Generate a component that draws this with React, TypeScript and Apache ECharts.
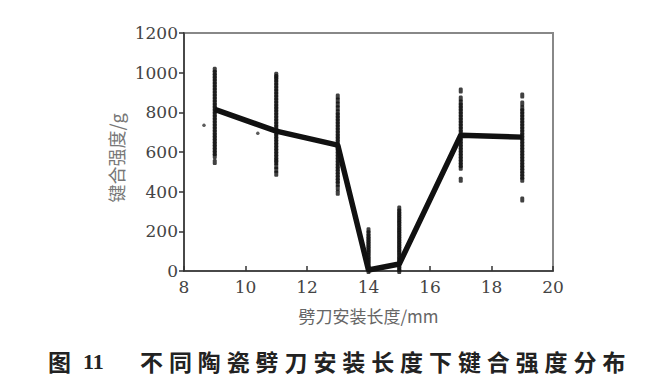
import React, { useEffect, useRef } from "react";
import * as echarts from "echarts";

const xTicks = [8, 10, 12, 14, 16, 18, 20];
const yTicks = [0, 200, 400, 600, 800, 1000, 1200];

const lengths = [9, 11, 13, 14, 15, 17, 19];
const meanStrength = [815, 705, 635, 5, 35, 685, 675];

const samples9 = [550, 580, 595, 610, 625, 640, 655, 670, 685, 700, 715, 730, 745, 760, 775, 790, 805, 820, 835, 850, 865, 880, 895, 910, 925, 940, 955, 970, 985, 1000, 1015];
const samples11 = [490, 510, 530, 548, 560, 575, 590, 605, 620, 635, 650, 665, 680, 695, 710, 725, 740, 755, 770, 785, 800, 815, 830, 845, 860, 875, 890, 905, 920, 935, 950, 965, 978, 990];
const samples13 = [395, 420, 440, 455, 470, 485, 500, 515, 530, 545, 560, 575, 590, 605, 620, 635, 650, 665, 680, 695, 710, 725, 740, 755, 770, 785, 800, 820, 840, 860, 880];
const samples14 = [0, 12, 25, 38, 50, 62, 75, 88, 100, 112, 125, 138, 150, 162, 175, 190, 205];
const samples15 = [0, 12, 25, 38, 50, 62, 75, 88, 100, 112, 125, 138, 150, 162, 175, 188, 200, 212, 225, 238, 250, 262, 275, 288, 300, 315];
const samples17 = [460, 520, 535, 550, 565, 580, 595, 610, 625, 640, 655, 670, 685, 700, 715, 730, 745, 760, 775, 790, 805, 820, 835, 850, 870, 910];
const samples19 = [360, 460, 475, 490, 505, 520, 535, 550, 565, 580, 595, 610, 625, 640, 655, 670, 685, 700, 715, 730, 745, 760, 775, 790, 805, 820, 845, 885];
const samplesByLength = [samples9, samples11, samples13, samples14, samples15, samples17, samples19];

const strayX = [8.65, 10.4];
const strayY = [735, 695];

const xName = "劈刀安装长度/mm";
const yName = "键合强度/g";
const figLabel = "图";
const figNumber = "11";
const caption = "不同陶瓷劈刀安装长度下键合强度分布";

export default function App() {
  const ref = useRef<HTMLDivElement>(null);
  useEffect(() => {
    if (!ref.current) return;
    const chart = echarts.init(ref.current, null, { renderer: "svg" });

    const scatterData: number[][] = [];
    samplesByLength.forEach((arr, i) => {
      arr.forEach((v) => scatterData.push([lengths[i], v]));
    });
    const strayData = strayX.map((x, i) => [x, strayY[i]]);

    const captionChars = caption.split("").map((ch, i) => ({
      type: "text",
      left: 151.5 + 28.9 * i - 11.5,
      top: 349,
      style: {
        text: ch,
        font: "bold 23px 'Noto Sans CJK SC'",
        fill: "#222",
      },
    }));

    const serif = "'DejaVu Serif', 'Liberation Serif', serif";
    const tickFont = { fontFamily: serif, fontSize: 17, color: "#444" };

    chart.setOption({
      animation: false,
      grid: {
        left: 184,
        right: 111,
        top: 33,
        bottom: 119,
        show: true,
        borderColor: "#888",
        borderWidth: 2,
        backgroundColor: "transparent",
      },
      xAxis: {
        type: "value",
        min: xTicks[0],
        max: xTicks[xTicks.length - 1],
        interval: 2,
        name: xName,
        nameLocation: "middle",
        nameGap: 36,
        nameTextStyle: { fontFamily: "Noto Sans CJK SC", fontSize: 17, color: "#666" },
        axisLine: { lineStyle: { color: "#333", width: 1.5 } },
        axisTick: { inside: true, length: 5, lineStyle: { color: "#333", width: 1.5 } },
        axisLabel: { ...tickFont, margin: 7, formatter: (v: number) => String(v) },
        splitLine: { show: false },
      },
      yAxis: {
        type: "value",
        min: yTicks[0],
        max: yTicks[yTicks.length - 1],
        interval: 200,
        axisLine: { show: true, lineStyle: { color: "#333", width: 1.5 } },
        axisTick: { show: true, inside: false, length: 5, lineStyle: { color: "#333", width: 1.5 } },
        axisLabel: { ...tickFont, margin: 6, formatter: (v: number) => String(v) },
        splitLine: { show: false },
      },
      series: [
        {
          type: "scatter",
          data: scatterData,
          symbol: "roundRect",
          symbolSize: [4, 6],
          itemStyle: { color: "#111" },
          z: 2,
        },
        {
          type: "scatter",
          data: strayData,
          symbolSize: 3.5,
          itemStyle: { color: "#333" },
          z: 2,
        },
        {
          type: "line",
          data: lengths.map((x, i) => [x, meanStrength[i]]),
          symbol: "none",
          lineStyle: { color: "#111", width: 5.5 },
          z: 3,
        },
      ],
      graphic: [
        {
          type: "text",
          x: 116,
          y: 158,
          rotation: Math.PI / 2,
          style: {
            text: yName,
            font: "18px 'Noto Sans CJK SC'",
            fill: "#777",
            align: "center",
            verticalAlign: "middle",
          },
        },
        {
          type: "text",
          left: 48,
          top: 349,
          style: { text: figLabel, font: "bold 23px 'Noto Sans CJK SC'", fill: "#222" },
        },
        {
          type: "text",
          left: 83,
          top: 350,
          style: { text: figNumber, font: "bold 22px 'Liberation Serif'", fill: "#222" },
        },
        ...captionChars,
      ],
    });
    return () => chart.dispose();
  }, []);
  return <div ref={ref} style={{ width: 664, height: 390, margin: -8 }} />;
}
